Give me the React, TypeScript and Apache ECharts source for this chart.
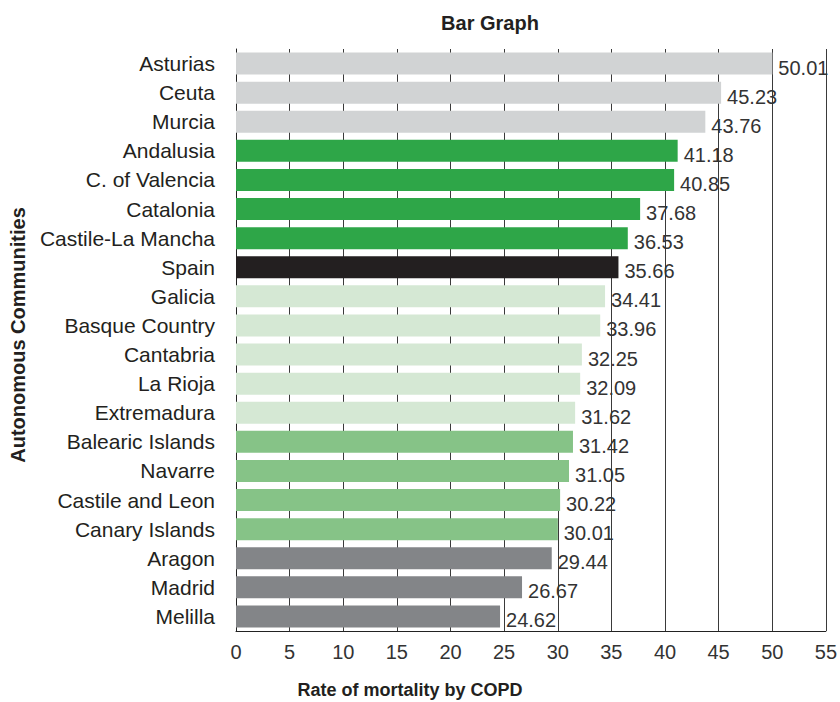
import React, { useEffect, useRef } from "react";
import * as echarts from "echarts";

// Autonomous communities, top to bottom
const categories = [
  "Asturias",
  "Ceuta",
  "Murcia",
  "Andalusia",
  "C. of Valencia",
  "Catalonia",
  "Castile-La Mancha",
  "Spain",
  "Galicia",
  "Basque Country",
  "Cantabria",
  "La Rioja",
  "Extremadura",
  "Balearic Islands",
  "Navarre",
  "Castile and Leon",
  "Canary Islands",
  "Aragon",
  "Madrid",
  "Melilla",
];

// Mortality rate by COPD
const values = [
  50.01, 45.23, 43.76, 41.18, 40.85, 37.68, 36.53, 35.66, 34.41, 33.96, 32.25,
  32.09, 31.62, 31.42, 31.05, 30.22, 30.01, 29.44, 26.67, 24.62,
];

// Group of each community (drives the bar colour)
const groups = [
  "top", "top", "top",
  "high", "high", "high", "high",
  "national",
  "mid", "mid", "mid", "mid", "mid",
  "low", "low", "low", "low",
  "bottom", "bottom", "bottom",
];

const xTicks = { min: 0, max: 55, interval: 5 };

const groupColors: Record<string, string> = {
  top: "#d1d3d4",
  high: "#2ea648",
  national: "#231f20",
  mid: "#d5e8d4",
  low: "#86c387",
  bottom: "#838588",
};

const FONT = "'Liberation Sans', Arial, Helvetica, sans-serif";

export default function App() {
  const ref = useRef<HTMLDivElement>(null);

  useEffect(() => {
    if (!ref.current) return;
    const chart = echarts.init(ref.current, undefined, { renderer: "svg" });

    chart.setOption({
      animation: false,
      backgroundColor: "#ffffff",
      textStyle: { fontFamily: FONT },
      grid: { left: 236, right: 11, top: 49, bottom: 71, containLabel: false },
      xAxis: {
        type: "value",
        min: xTicks.min,
        max: xTicks.max,
        interval: xTicks.interval,
        axisLine: { show: true, lineStyle: { color: "#222", width: 1 } },
        axisTick: { show: false },
        axisLabel: {
          color: "#333",
          fontSize: 20,
          fontFamily: FONT,
          margin: 11,
        },
        splitLine: { show: true, lineStyle: { color: "#3a3a3a", width: 1 } },
      },
      yAxis: {
        type: "category",
        inverse: true,
        data: categories,
        axisLine: { show: true, lineStyle: { color: "#222", width: 1 } },
        axisTick: { show: false },
        axisLabel: {
          color: "#231f20",
          fontSize: 21,
          fontFamily: FONT,
          margin: 21,
          padding: [0, 0, 3, 0],
        },
        splitLine: { show: false },
      },
      series: [
        {
          type: "bar",
          barWidth: 22,
          data: values.map((v, i) => ({
            value: v,
            itemStyle: { color: groupColors[groups[i]] },
          })),
          label: {
            show: true,
            position: "right",
            distance: 6,
            offset: [0, 4],
            color: "#333",
            fontSize: 20,
            fontFamily: FONT,
            formatter: (p: any) => Number(p.value).toFixed(2),
          },
        },
      ],
      graphic: [
        {
          type: "text",
          x: 490,
          y: 23,
          style: {
            text: "Bar Graph",
            fill: "#231f20",
            font: `bold 20px ${FONT}`,
            align: "center",
            verticalAlign: "middle",
          },
        },
        {
          type: "text",
          x: 410,
          y: 690,
          style: {
            text: "Rate of mortality by COPD",
            fill: "#231f20",
            font: `bold 18px ${FONT}`,
            align: "center",
            verticalAlign: "middle",
          },
        },
        {
          type: "text",
          x: 18,
          y: 335,
          rotation: Math.PI / 2,
          style: {
            text: "Autonomous Communities",
            fill: "#231f20",
            font: `bold 20px ${FONT}`,
            align: "center",
            verticalAlign: "middle",
          },
        },
      ],
    });

    return () => chart.dispose();
  }, []);

  return (
    <div
      ref={ref}
      style={{ position: "fixed", left: 0, top: 0, width: 840, height: 702 }}
    />
  );
}
